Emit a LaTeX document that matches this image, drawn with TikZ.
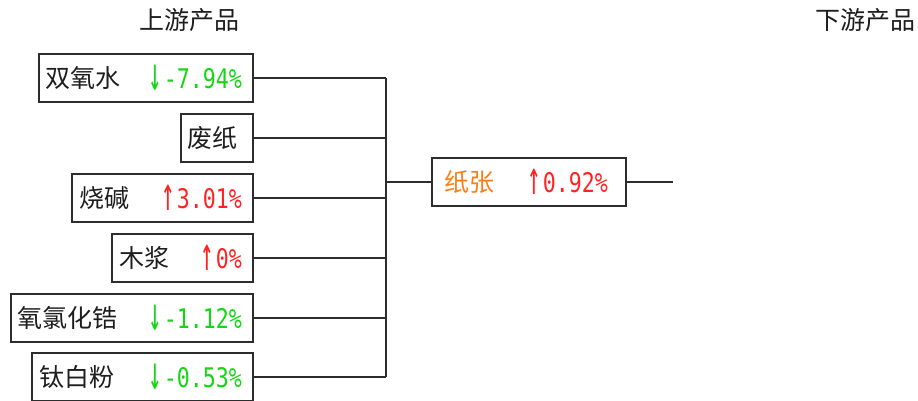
\documentclass[tikz,border=0pt]{standalone}
\usepackage{fontspec}
\setmainfont{Noto Sans CJK SC}
\newfontfamily\pctfont[FakeStretch=0.8]{DejaVu Sans Mono}
\definecolor{linec}{RGB}{45,45,45}
\definecolor{txt}{RGB}{30,30,30}
\definecolor{upc}{RGB}{255,35,35}
\definecolor{downc}{RGB}{20,215,20}
\definecolor{orangec}{RGB}{255,125,20}
\newcommand{\upar}{\raisebox{-2.5pt}{\scalebox{1.05}[1.75]{↑}}\hspace{2pt}}
\newcommand{\dnar}{\raisebox{-2.5pt}{\scalebox{1.05}[1.75]{↓}}\hspace{2pt}}
\begin{document}
\begin{tikzpicture}[x=1pt,y=-1pt,
  box/.style={draw=linec, line width=2pt, inner sep=0pt, minimum height=48pt, anchor=east},
  nm/.style={anchor=west, inner sep=0pt, font=\fontsize{25}{25}\selectfont, text=txt},
  pct/.style={anchor=east, inner sep=0pt, font=\pctfont\fontsize{27}{27}\selectfont},
  hdr/.style={inner sep=0pt, font=\fontsize{25}{25}\selectfont, text=txt},
  conn/.style={draw=linec, line width=2pt}]
\useasboundingbox (0,0) rectangle (918,401);
% headers
\node[hdr] (h1) at (189,20) {上游产品};
\node[hdr] (h2) at (865,20) {下游产品};
% upstream boxes
\node[box, minimum width=214pt] (b1) at (254,78) {};
\node[box, minimum width=72pt] (b2) at (254,138) {};
\node[box, minimum width=181pt] (b3) at (254,198) {};
\node[box, minimum width=141pt] (b4) at (254,258) {};
\node[box, minimum width=242pt] (b5) at (254,318) {};
\node[box, minimum width=221pt] (b6) at (254,377) {};
\node[nm] (n1) at ([xshift=7pt]b1.west) {双氧水};
\node[pct, text=downc] (p1) at ([xshift=-12pt]b1.east) {\dnar-7.94\%};
\node[nm] (n2) at ([xshift=7pt]b2.west) {废纸};
\node[nm] (n3) at ([xshift=8pt]b3.west) {烧碱};
\node[pct, text=upc] (p3) at ([xshift=-12pt]b3.east) {\upar3.01\%};
\node[nm] (n4) at ([xshift=8pt]b4.west) {木浆};
\node[pct, text=upc] (p4) at ([xshift=-12pt]b4.east) {\upar0\%};
\node[nm] (n5) at ([xshift=7pt]b5.west) {氧氯化锆};
\node[pct, text=downc] (p5) at ([xshift=-12pt]b5.east) {\dnar-1.12\%};
\node[nm] (n6) at ([xshift=8pt]b6.west) {钛白粉};
\node[pct, text=downc] (p6) at ([xshift=-12pt]b6.east) {\dnar-0.53\%};
% downstream box
\node[box, minimum width=194pt] (out) at (627,182) {};
\node[nm, text=orangec] (no) at ([xshift=13pt]out.west) {纸张};
\node[pct, text=upc] (po) at ([xshift=-19pt]out.east) {\upar0.92\%};
% connectors
\coordinate (top) at (386,78);
\coordinate (bot) at (386,377);
\coordinate (endc) at (673,182);
\foreach \b in {b1,b2,b3,b4,b5,b6}
  \draw[conn] (\b.east) -- (\b.east -| top);
\draw[conn] (top) -- (bot);
\draw[conn] (top |- out.west) -- (out.west);
\draw[conn] (out.east) -- (endc);
\end{tikzpicture}
\end{document}
